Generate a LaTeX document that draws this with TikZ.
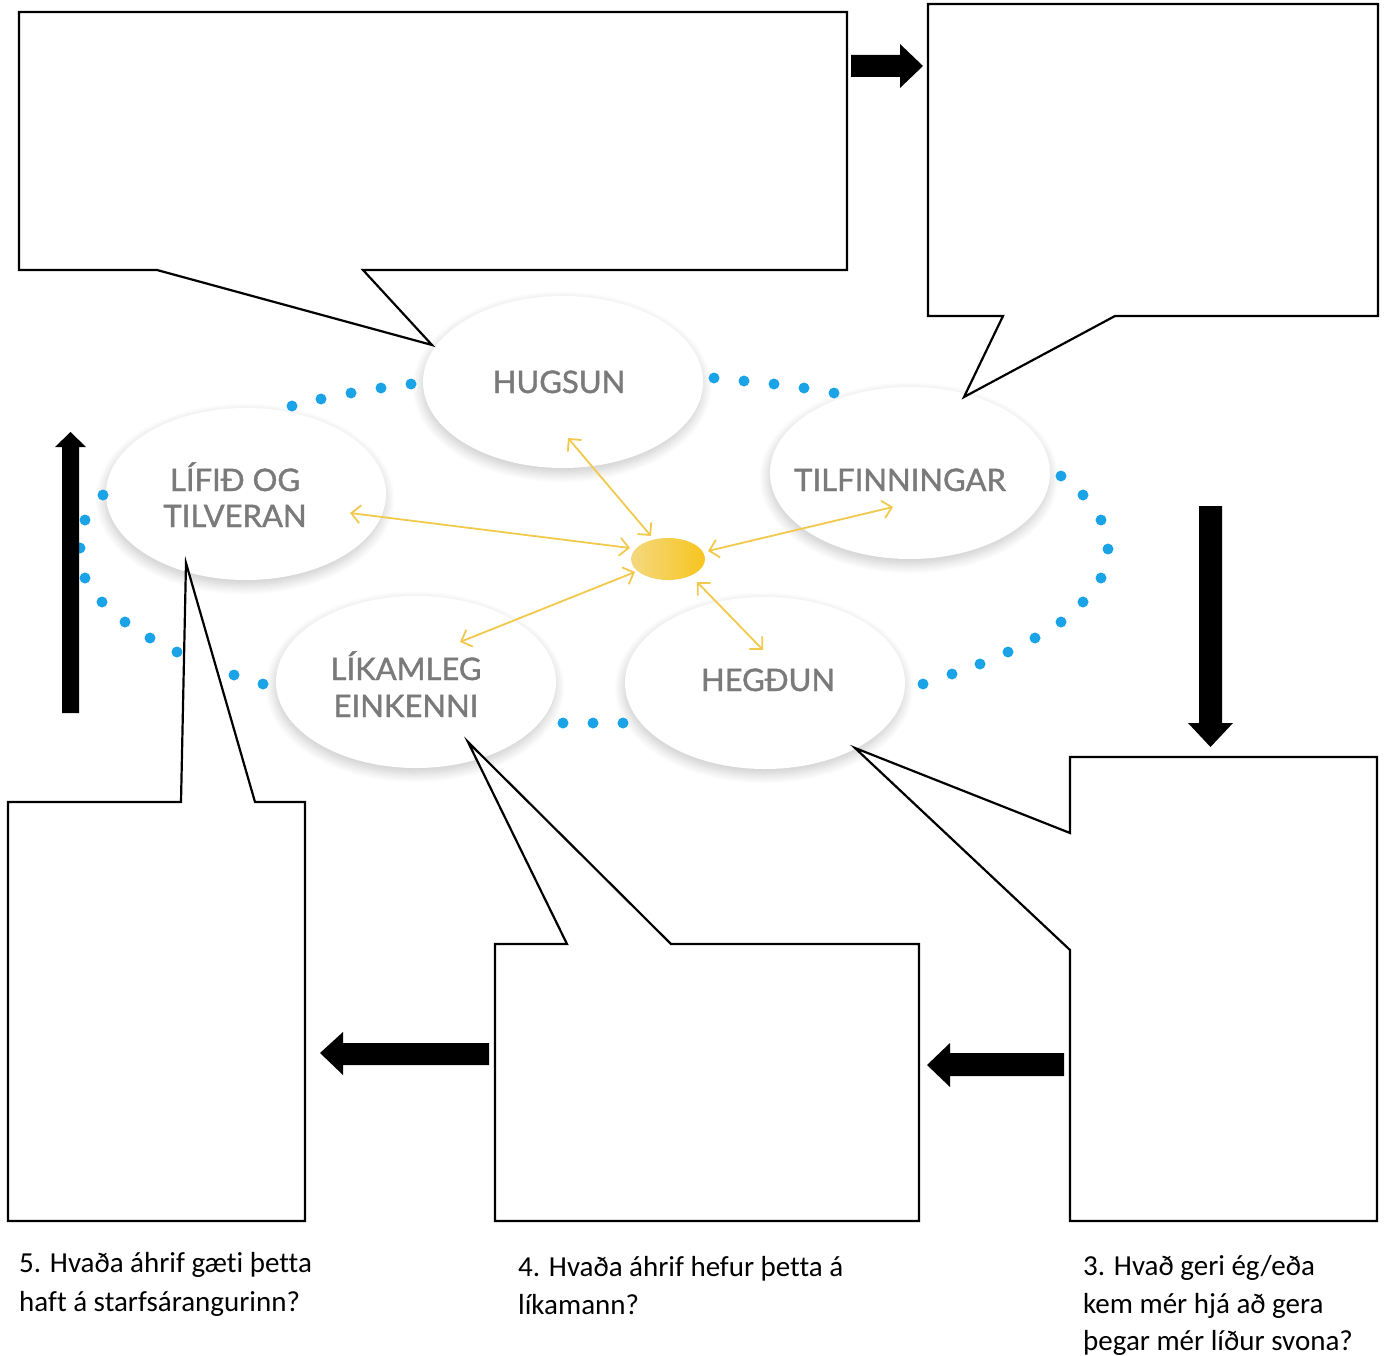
\documentclass[tikz,border=0pt]{standalone}
\usepackage{fontspec}
\setmainfont{Carlito}[Ligatures=NoCommon]
\newfontfamily\ellfont{Lato}[FakeBold=1.3]
\usetikzlibrary{shapes.geometric,arrows.meta,shadows.blur}
\definecolor{dotblue}{HTML}{1AA3E6}
\definecolor{ellgray}{HTML}{7A7A7A}
\definecolor{arrowgold}{HTML}{F2C94C}
\definecolor{goldL}{HTML}{F4D87E}
\definecolor{goldR}{HTML}{F7C51F}
\begin{document}
\begin{tikzpicture}[x=1pt,y=-1pt,
  bubble/.style={ellipse, fill=white, minimum width=280pt, minimum height=172pt, inner sep=0pt,
    blur shadow={shadow xshift=-1pt, shadow yshift=-5pt, shadow blur radius=10pt, shadow opacity=22, shadow blur steps=14}},
  bubbletext/.style={anchor=base, inner sep=0pt, text=ellgray, font=\ellfont\fontsize{31}{36}\selectfont},
  bluedot/.style={fill=dotblue},
  link/.style={draw=arrowgold, line width=1.8pt, {Straight Barb[length=9pt,width=18pt]}-{Straight Barb[length=9pt,width=18pt]}},
  speech/.style={draw=black, fill=white, line width=2.2pt, line join=miter},
  blockarrow/.style={fill=black},
  question/.style={anchor=base west, inner sep=0pt, font=\fontsize{29}{39}\selectfont}
]
\useasboundingbox (0,0) rectangle (1389,1356);

% bubbles
\node[bubble] (hug) at (563,382) {};
\node[bubble] (lif) at (246,494) {};
\node[bubble] (til) at (910,473) {};
\node[bubble] (lik) at (416,682) {};
\node[bubble] (heg) at (765,683) {};

% blue dots
\foreach \p in {(292,406),(321,399),(351,393),(381,388),(411,384),
  (714,378),(744,381),(774,384),(804,388),(834,393),
  (1061,476),(1083,495),(1101,520),(1108,549),(1101,578),(1083,602),(1061,622),(1035,638),(1008,652),(980,664),(952,674),(923,684),
  (563,723),(593,723),(623,723),
  (103,495),(85,520),(80,548),(85,578),(102,602),(125,622),(150,638),(177,652),(205,664),(234,675),(263,684)}
  \fill[bluedot] \p circle (5.5);

% centre
\node[ellipse, minimum width=74pt, minimum height=42pt, inner sep=0pt, left color=goldL, right color=goldR] (core) at (668,559) {};

% link ends
\coordinate (hugE) at (568,438);  \coordinate (hugC) at (651,536);
\coordinate (lifE) at (350,513);  \coordinate (lifC) at (630,548);
\coordinate (tilE) at (893,507);  \coordinate (tilC) at (708,551);
\coordinate (likE) at (460,642);  \coordinate (likC) at (635,572);
\coordinate (hegE) at (763,650);  \coordinate (hegC) at (697,582);
\draw[link] (hugE) -- (hugC);
\draw[link] (lifE) -- (lifC);
\draw[link] (tilE) -- (tilC);
\draw[link] (likE) -- (likC);
\draw[link] (hegE) -- (hegC);

% bubble texts
\node[bubbletext] (hugT) at (559,393) {HUGSUN};
\node[bubbletext] (lifT1) at (235,491) {LÍFIÐ OG};
\node[bubbletext] (lifT2) at (235,527) {TILVERAN};
\node[bubbletext] (tilT) at (900,491) {TILFINNINGAR};
\node[bubbletext] (likT1) at (406,680) {LÍKAMLEG};
\node[bubbletext] (likT2) at (406,717) {EINKENNI};
\node[bubbletext] (hegT) at (768,691) {HEGÐUN};

% speech bubbles
\draw[speech] (19,12) -- (847,12) -- (847,270) -- (363,270) -- (432,345) -- (157,270) -- (19,270) -- cycle;
\draw[speech] (928,4) -- (1378,4) -- (1378,316) -- (1115,316) -- (964,397) -- (1003,316) -- (928,316) -- cycle;
\draw[speech] (1070,757) -- (1377,757) -- (1377,1221) -- (1070,1221) -- (1070,950) -- (855,748) -- (1070,833) -- cycle;
\draw[speech] (495,944) -- (567,944) -- (468,742) -- (671,944) -- (919,944) -- (919,1221) -- (495,1221) -- cycle;
\draw[speech] (8,802) -- (181,802) -- (186,563) -- (255,802) -- (305,802) -- (305,1221) -- (8,1221) -- cycle;

% block arrows
\fill[blockarrow] (851,55) -- (900,55) -- (900,44) -- (923,66) -- (900,88) -- (900,77) -- (851,77) -- cycle;
\fill[blockarrow] (1199,506) -- (1222,506) -- (1222,723) -- (1233,723) -- (1210.5,747) -- (1188,723) -- (1199,723) -- cycle;
\fill[blockarrow] (1064,1053) -- (950,1053) -- (950,1043) -- (927,1065) -- (950,1087) -- (950,1076) -- (1064,1076) -- cycle;
\fill[blockarrow] (489,1043) -- (343,1043) -- (343,1032) -- (320,1053) -- (343,1075) -- (343,1065) -- (489,1065) -- cycle;
\fill[blockarrow] (62,713) -- (62,447) -- (55,447) -- (70.5,432) -- (86,447) -- (79,447) -- (79,713) -- cycle;

% questions
\node[question] (q5a) at (19,1272) {5. Hvaða áhrif gæti þetta};
\node[question] (q5b) at (19,1311) {haft á starfsárangurinn?};
\node[question] (q4a) at (518,1276) {4. Hvaða áhrif hefur þetta á};
\node[question] (q4b) at (518,1314) {líkamann?};
\node[question] (q3a) at (1083,1275) {3. Hvað geri ég/eða};
\node[question] (q3b) at (1083,1313) {kem mér hjá að gera};
\node[question] (q3c) at (1083,1350) {þegar mér líður svona?};
\end{tikzpicture}
\end{document}
